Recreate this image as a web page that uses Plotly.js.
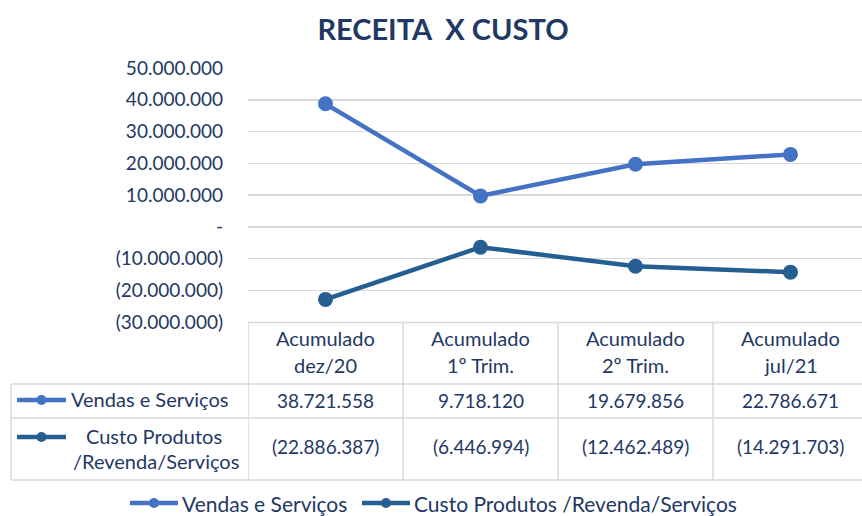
<!DOCTYPE html>
<html>
<head>
<meta charset="utf-8">
<script src="https://cdn.plot.ly/plotly-3.0.1.min.js"></script>
<style>html,body{margin:0;padding:0;background:#fff;}#chart{width:862px;height:516px;}</style>
</head>
<body>
<div id="chart"></div>
<script>
// ---- data ----
const categories = ["Acumulado dez/20", "Acumulado 1º Trim.", "Acumulado 2º Trim.", "Acumulado jul/21"];
const headerLine1 = ["Acumulado", "Acumulado", "Acumulado", "Acumulado"];
const headerLine2 = ["dez/20", "1º Trim.", "2º Trim.", "jul/21"];
const seriesNames = ["Vendas e Serviços", "Custo Produtos /Revenda/Serviços"];
const vendas = [38721558, 9718120, 19679856, 22786671];
const custo = [-22886387, -6446994, -12462489, -14291703];
const tickValues = [-30000000, -20000000, -10000000, 0, 10000000, 20000000, 30000000, 40000000, 50000000];
const colors = ["#4472C4", "#255E91"];

// ---- helpers ----
function fmt(v) {
  if (v === 0) return "-";
  const s = Math.abs(v).toString().replace(/\B(?=(\d{3})+(?!\d))/g, ".");
  return v < 0 ? "(" + s + ")" : s;
}
const FONT = "Lato, 'Open Sans', 'DejaVu Sans', sans-serif";
const TXT = "#1F3864";
const GRID = "#D9D9D9";
const NUM = 19, WORD = 20;

// geometry (pixels)
const W = 862, H = 516, L = 248, T = 68, B = 322;
const PW = W - L, PH = B - T;
const px = x => (x - L) / PW;       // pixel x -> paper
const py = y => (B - y) / PH;       // pixel y -> paper

const traces = [
  { x: categories, y: vendas, name: seriesNames[0], type: "scatter", mode: "lines+markers",
    line: { color: colors[0], width: 4.5 }, marker: { color: colors[0], size: 15 }, cliponaxis: false },
  { x: categories, y: custo, name: seriesNames[1], type: "scatter", mode: "lines+markers",
    line: { color: colors[1], width: 4.5 }, marker: { color: colors[1], size: 15 }, cliponaxis: false }
];

const shapes = [];
const ann = [];
const lineStyle = { color: GRID, width: 1.5 };
// header top line
shapes.push({ type: "line", xref: "paper", yref: "paper", x0: 0, x1: 1, y0: py(322.5), y1: py(322.5), line: lineStyle });
// horizontal row lines
[384, 418, 480].forEach(y => shapes.push({ type: "line", xref: "paper", yref: "paper", x0: px(11), x1: 1, y0: py(y), y1: py(y), line: lineStyle }));
// vertical column lines (category boundaries)
for (let i = 0; i < categories.length; i++) {
  shapes.push({ type: "line", xref: "x", yref: "paper", x0: i - 0.5, x1: i - 0.5, y0: py(322), y1: py(480), line: lineStyle });
}
shapes.push({ type: "line", xref: "paper", yref: "paper", x0: px(11), x1: px(11), y0: py(384), y1: py(480), line: lineStyle });

function txt(xref, x, y, text, size, anchor) {
  ann.push({ xref: xref, yref: "paper", x: x, y: py(y), text: text, showarrow: false, xanchor: anchor || "center", yanchor: "middle",
    font: { family: FONT, size: size, color: TXT } });
}

// header text + values
categories.forEach((c, i) => {
  txt("x", i, 338, headerLine1[i], WORD);
  txt("x", i, 365, headerLine2[i], WORD);
  txt("x", i, 400, fmt(vendas[i]), NUM);
  txt("x", i, 446, fmt(custo[i]), NUM);
});

// legend keys (line + dot)
function key(x0, x1, yPix, color, r) {
  shapes.push({ type: "line", xref: "paper", yref: "paper", x0: px(x0), x1: px(x1), y0: py(yPix), y1: py(yPix), line: { color: color, width: 4.5 } });
  const cx = (x0 + x1) / 2;
  shapes.push({ type: "circle", xref: "paper", yref: "paper", x0: px(cx - r), x1: px(cx + r), y0: py(yPix + r), y1: py(yPix - r), fillcolor: color, line: { color: color, width: 0 } });
}
// table row labels
key(17, 66, 400, colors[0], 5);
key(17, 66, 437, colors[1], 5);
txt("paper", px(150), 399, seriesNames[0], WORD);
txt("paper", px(154), 436, "Custo Produtos", WORD);
txt("paper", px(156), 461, "/Revenda/Serviços", WORD);
// bottom legend
key(130, 178, 503, colors[0], 5);
key(362, 410, 503, colors[1], 5);
txt("paper", px(180), 503, seriesNames[0], 21, "left");
txt("paper", px(412), 503, seriesNames[1], 21, "left");

const layout = {
  width: W, height: H,
  margin: { l: L, r: 0, t: T, b: H - B, pad: 0, autoexpand: false },
  paper_bgcolor: "#fff", plot_bgcolor: "#fff",
  title: { text: "RECEITA  X CUSTO", x: 443 / W, xanchor: "center", y: 1 - 30 / H, yanchor: "middle", font: { family: FONT, size: 29, color: TXT, weight: "bold" } },
  xaxis: { type: "category", range: [-0.5, 3.5 - 6 / 155], showgrid: false, zeroline: false, showticklabels: false, showline: false, fixedrange: true },
  yaxis: { range: [-30000000, 50000000], tickvals: tickValues, ticktext: tickValues.map(fmt), showgrid: true, gridcolor: GRID, gridwidth: 1.5,
    zeroline: false, showline: false, ticks: "", ticklabelstandoff: 24, tickfont: { family: FONT, size: NUM, color: TXT }, fixedrange: true },
  showlegend: false,
  shapes: shapes,
  annotations: ann
};

Plotly.newPlot("chart", traces, layout, { displayModeBar: false, staticPlot: true });
</script>
</body>
</html>
